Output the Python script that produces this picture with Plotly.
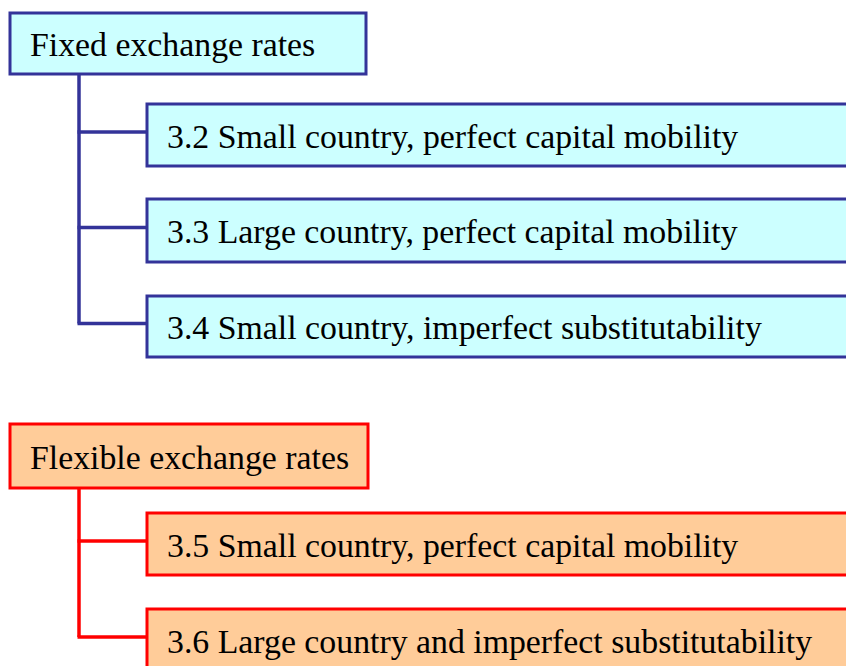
import plotly.graph_objects as go

# ---- content ----
groups = ["Fixed exchange rates", "Flexible exchange rates"]
children = [
    ["3.2 Small country, perfect capital mobility",
     "3.3 Large country, perfect capital mobility",
     "3.4 Small country, imperfect substitutability"],
    ["3.5 Small country, perfect capital mobility",
     "3.6 Large country and imperfect substitutability"],
]

# ---- layout / style (pixels) ----
parent_rows = [[13, 74], [424, 488]]
child_rows = [[[104, 166], [199, 262], [296, 357]],
              [[513, 575], [609, 671]]]
parent_right = [366, 368]
line_colors = ["#333399", "#FF0000"]
fill_colors = ["#CCFFFF", "#FFCC99"]
W, H = 846, 666
PX0, CX0, TRUNK_X = 10, 147, 79
PAD = 18
FONT = dict(family="Liberation Serif, Times New Roman, serif", size=33.8, color="black")

fig = go.Figure()
shapes, annotations = [], []

for g, name in enumerate(groups):
    lc, fc = line_colors[g], fill_colors[g]
    py0, py1 = parent_rows[g]
    xs, ys = [TRUNK_X, TRUNK_X], [py1, (child_rows[g][-1][0] + child_rows[g][-1][1]) / 2 - 3]
    fig.add_trace(go.Scatter(x=xs, y=ys, mode="lines", line=dict(color=lc, width=3.5),
                             hoverinfo="skip", showlegend=False))
    for (cy0, cy1) in child_rows[g]:
        yc = (cy0 + cy1) / 2 - 3
        fig.add_trace(go.Scatter(x=[TRUNK_X - 1.5, CX0], y=[yc, yc], mode="lines",
                                 line=dict(color=lc, width=3.5),
                                 hoverinfo="skip", showlegend=False))
    shapes.append(dict(type="rect", xref="x", yref="y", x0=PX0, x1=parent_right[g],
                       y0=py0, y1=py1, fillcolor=fc, line=dict(color=lc, width=3), layer="above"))
    annotations.append(dict(x=PX0 + PAD, y=(py0 + py1) / 2 + 1, xref="x", yref="y", text=name,
                            showarrow=False, xanchor="left", yanchor="middle", font=FONT))
    for label, (cy0, cy1) in zip(children[g], child_rows[g]):
        shapes.append(dict(type="rect", xref="x", yref="y", x0=CX0, x1=W + 20,
                           y0=cy0, y1=cy1, fillcolor=fc, line=dict(color=lc, width=3), layer="above"))
        annotations.append(dict(x=CX0 + PAD, y=(cy0 + cy1) / 2 + 1, xref="x", yref="y", text=label,
                                showarrow=False, xanchor="left", yanchor="middle", font=FONT))

fig.update_layout(
    width=W, height=H, margin=dict(l=0, r=0, t=0, b=0),
    paper_bgcolor="white", plot_bgcolor="white",
    xaxis=dict(range=[0, W], visible=False, fixedrange=True),
    yaxis=dict(range=[H, 0], visible=False, fixedrange=True),
    shapes=shapes, annotations=annotations, showlegend=False,
)

fig.write_html("out.html", config={"displayModeBar": False},
               post_script="document.body.style.margin='0';document.body.style.overflow='hidden';")
